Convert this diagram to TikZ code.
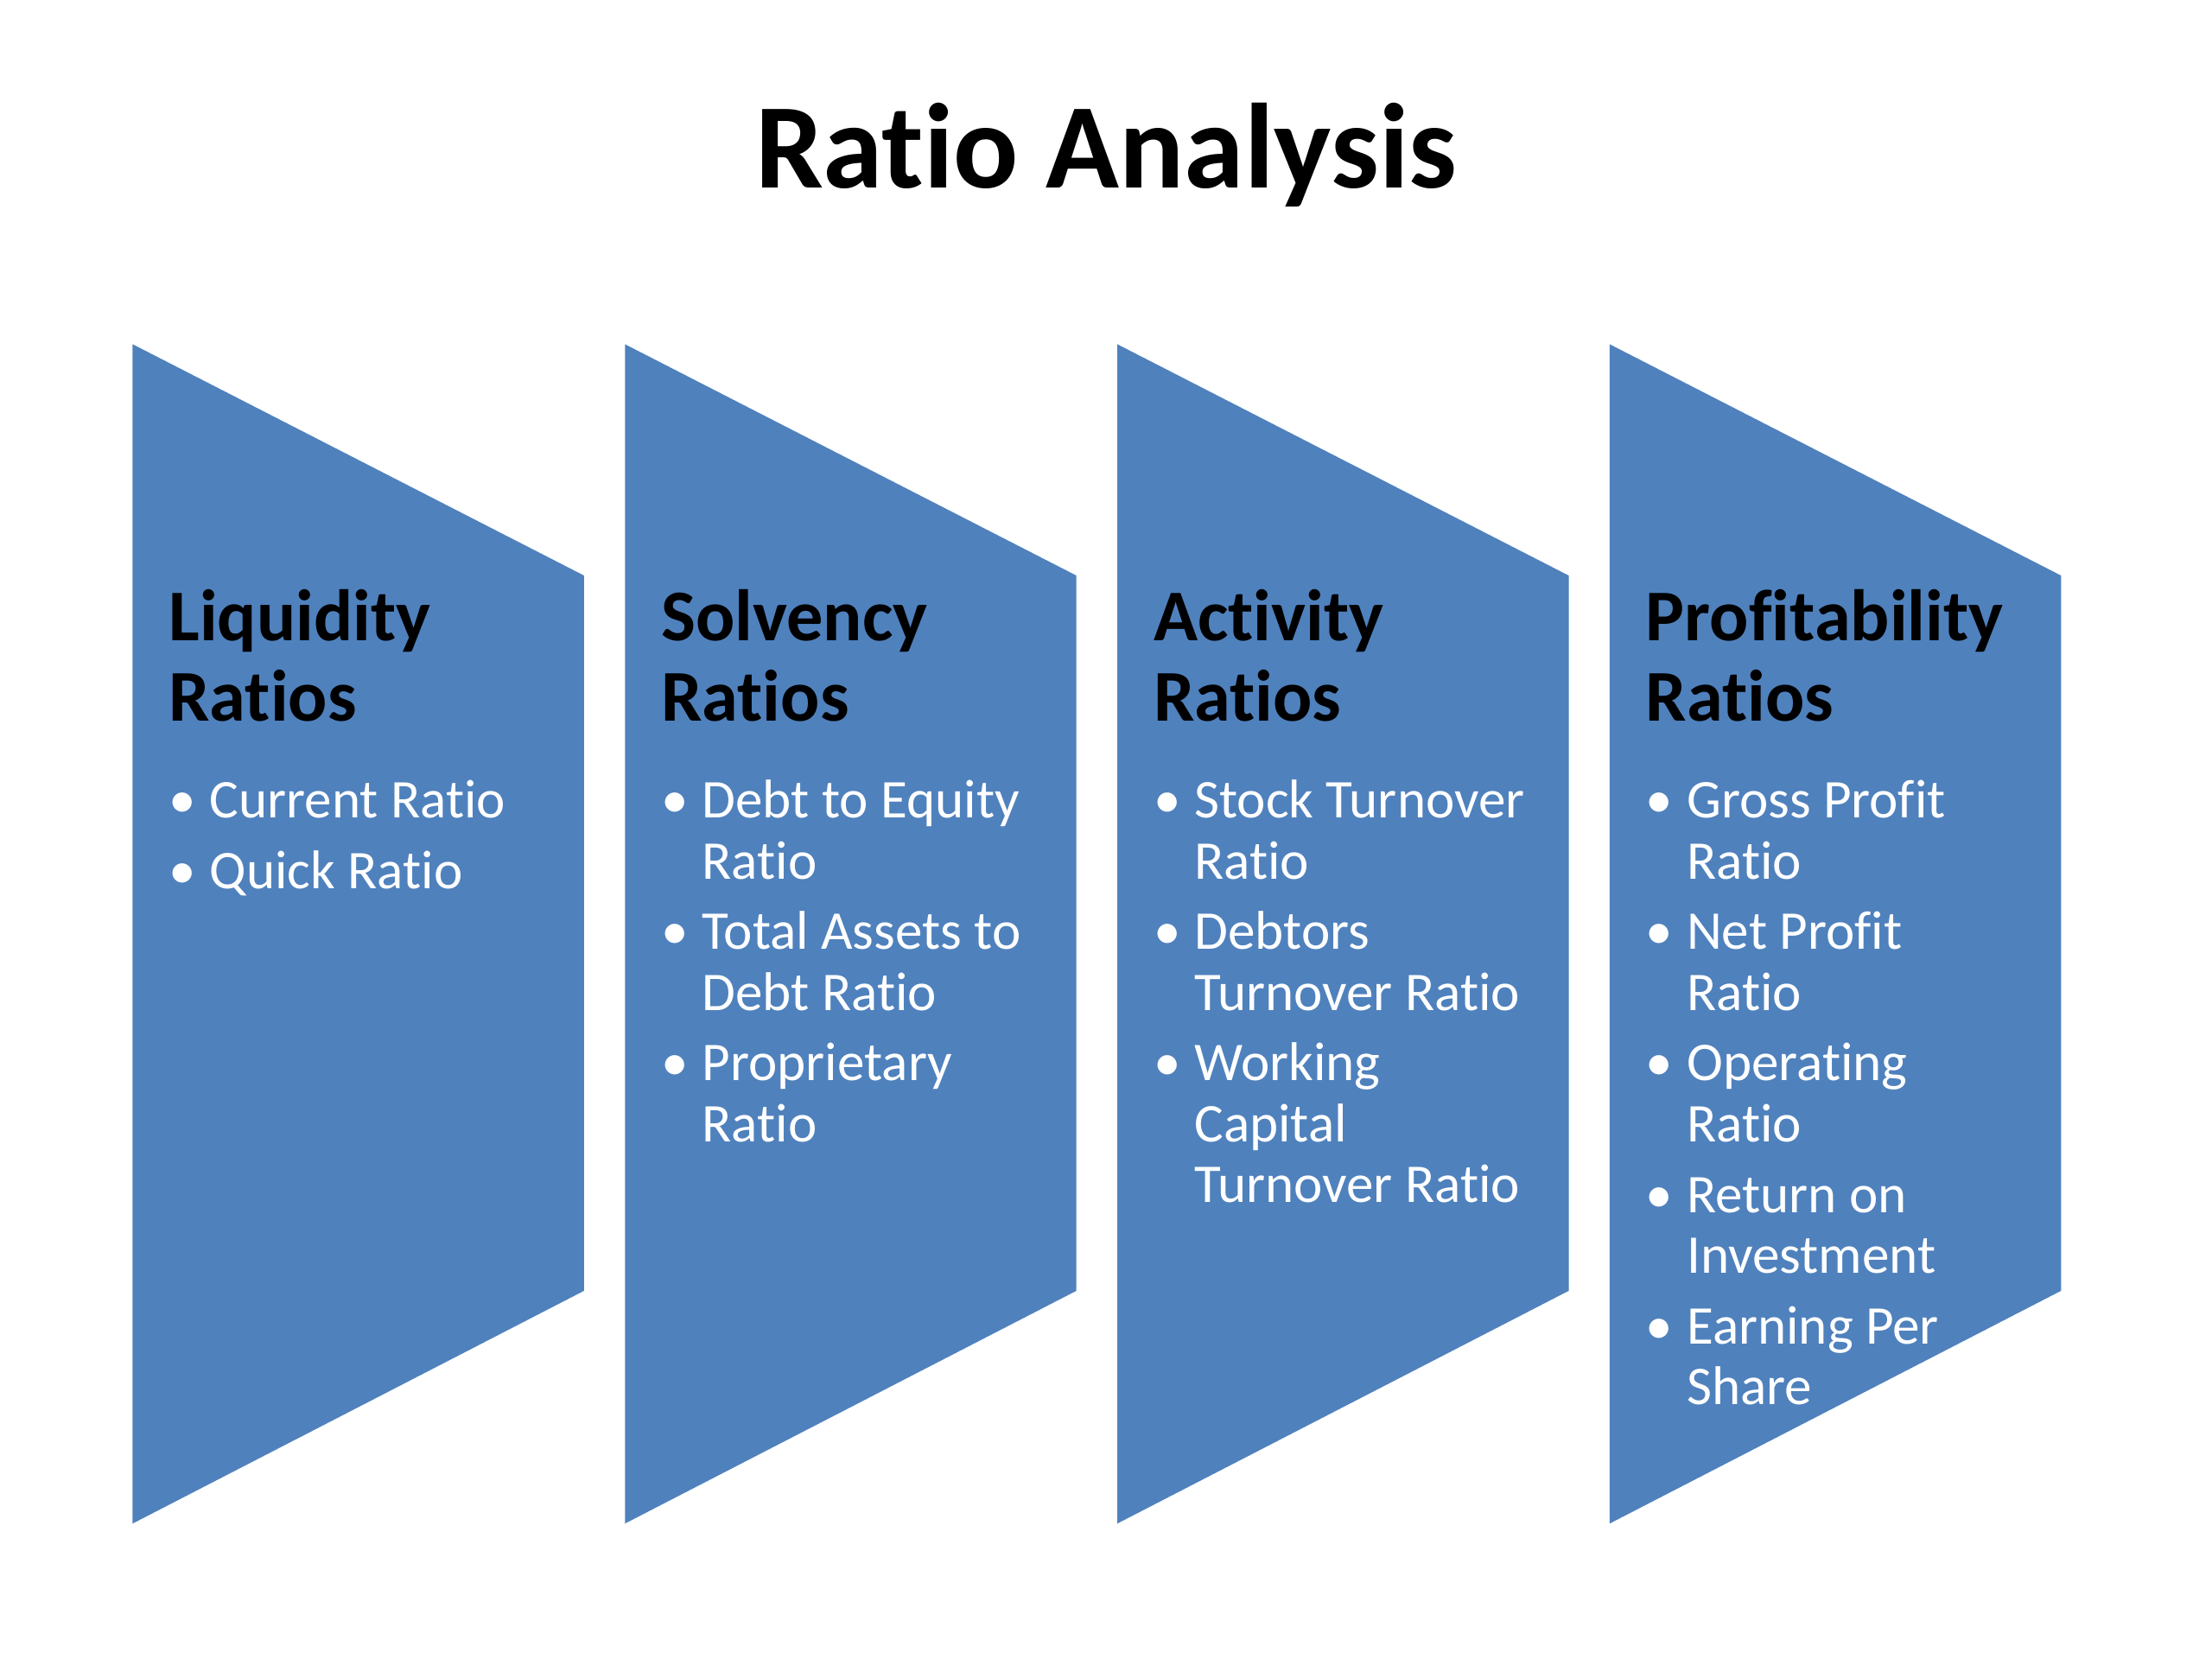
\documentclass[tikz,border=0pt]{standalone}
\usepackage{fontspec}
\setmainfont[Ligatures=NoCommon]{Carlito}
\usepackage{xcolor}
\definecolor{ratioblue}{RGB}{79,129,189}
\usetikzlibrary{positioning}
\tikzset{
  panel/.style={fill=ratioblue, draw=none},
  head/.style={anchor=base west, inner sep=0pt, align=left,
    font=\fontsize{14.7}{16.2}\selectfont\bfseries, text=black},
  items/.style={anchor=base west, inner sep=0pt,
    font=\fontsize{11}{12.24}\selectfont, text=white},
}
\newcommand{\bul}{\textbullet}
\newenvironment{ratiolist}{\renewcommand{\arraystretch}{1}\begin{tabular}[t]{@{}p{0.29cm}@{}l@{}}}{\end{tabular}}

\begin{document}
\begin{tikzpicture}[x=0.01cm, y=-0.01cm]
      \useasboundingbox (0,0) rectangle (1568,1176);
      % Title
      \node[font=\fontsize{24.4}{28}\selectfont\bfseries, anchor=base, inner sep=0pt] (title) at (784,133) {Ratio Analysis};
      % Panels
      \foreach \x/\n in {94/liq, 443/sol, 792/act, 1141/pro}
        \draw[panel] (\x,244) -- ++(320,164) -- ++(0,507) -- (\x,1080) -- cycle;
      % Liquidity
      \node[head] (liqhead) at (119,511) {Liquidity\\Ratios};
      \node[items] (liqlist) at (119,580) {\begin{ratiolist}
        \bul & Current Ratio\\[2pt]
        \bul & Quick Ratio
      \end{ratiolist}};
      % Solvency
      \node[head] (solhead) at (468,511) {Solvency\\Ratios};
      \node[items] (sollist) at (468,580) {\begin{ratiolist}
        \bul & Debt to Equity\\
             & Ratio\\[2pt]
        \bul & Total Assets to\\
             & Debt Ratio\\[2pt]
        \bul & Proprietary\\
             & Ratio
      \end{ratiolist}};
      % Activity
      \node[head] (acthead) at (817,511) {Activity\\Ratios};
      \node[items] (actlist) at (817,580) {\begin{ratiolist}
        \bul & Stock Turnover\\
             & Ratio\\[2pt]
        \bul & Debtors\\
             & Turnover Ratio\\[2pt]
        \bul & Working\\
             & Capital\\
             & Turnover Ratio
      \end{ratiolist}};
      % Profitability
      \node[head] (prohead) at (1166,511) {Profitability\\Ratios};
      \node[items] (prolist) at (1166,580) {\begin{ratiolist}
        \bul & Gross Profit\\
             & Ratio\\[2pt]
        \bul & Net Profit\\
             & Ratio\\[2pt]
        \bul & Operating\\
             & Ratio\\[2pt]
        \bul & Return on\\
             & Investment\\[2pt]
        \bul & Earning Per\\
             & Share
      \end{ratiolist}};
    \end{tikzpicture}
\end{document}
